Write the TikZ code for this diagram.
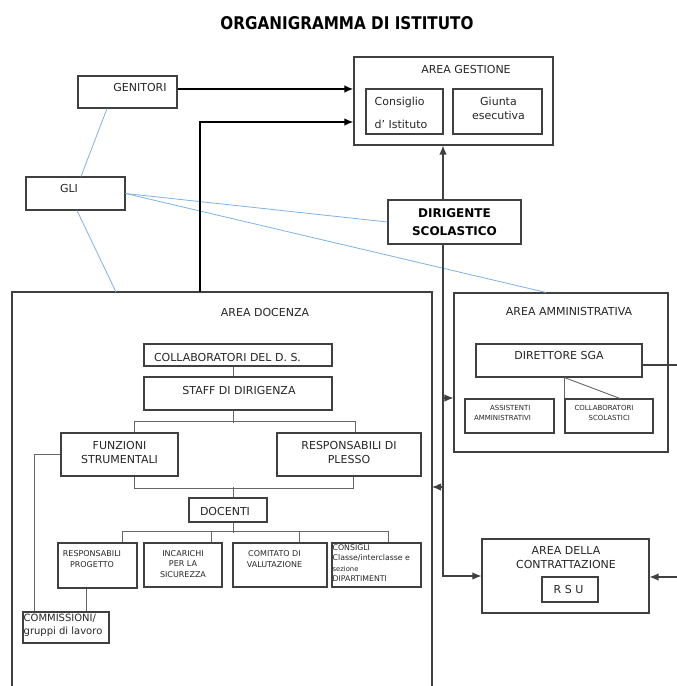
\documentclass[tikz,border=0pt]{standalone}
\usepackage{fontspec}
\setmainfont{DejaVu Sans}
\usepackage{graphicx}
\usetikzlibrary{arrows.meta}
\definecolor{boxc}{HTML}{404040}
\definecolor{bluel}{HTML}{7EB2E4}
\definecolor{txt}{HTML}{262626}
\newcommand{\fmain}{\fontsize{11}{14}\selectfont}
\newcommand{\fsmall}{\fontsize{8}{10.5}\selectfont}
\newcommand{\ftiny}{\fontsize{7}{10}\selectfont}
\tikzset{
  box/.style={draw=boxc, line width=1.1pt, inner sep=0pt},
  arr/.style={-{Latex[length=9pt,width=7.5pt]}},
  spine/.style={draw=black!75, line width=1.2pt},
  tree/.style={draw=black!60, line width=0.9pt},
  gl/.style={draw=bluel, line width=0.8pt},
  every label/.style={text=txt, inner sep=0pt, align=center},
}

\begin{document}
\begin{tikzpicture}[x=1pt, y=-1pt, font=\fmain, text=txt]
\useasboundingbox (0,0) rectangle (677,686);
\node[font=\fontsize{17.5}{20}\selectfont\bfseries, text=black] (title) at (347,23.5) {\scalebox{0.87}[1]{ORGANIGRAMMA DI ISTITUTO}};

\node[box, minimum width=99, minimum height=32, label={[xshift=12.5, yshift=4.5]center:GENITORI}] (gen) at (127.5,92) {};
\node[box, minimum width=99, minimum height=33, label={[xshift=-6.5, yshift=5.5]center:GLI}] (gli) at (75.5,193.5) {};
\node[box, minimum width=199, minimum height=88, label={[xshift=12.5, yshift=32]center:AREA GESTIONE}] (ges) at (453.5,101) {};
\node[box, minimum width=77, minimum height=45, label={[xshift=-3.5, yshift=-1, align=left]center:Consiglio\\[9pt]d’ Istituto}] (cdi) at (404.5,111.5) {};
\node[box, minimum width=89, minimum height=45, label={[xshift=1, yshift=3.5]center:Giunta\\esecutiva}] (giu) at (497.5,111.5) {};
\node[box, minimum width=133, minimum height=44, font=\fontsize{12}{18}\selectfont\bfseries, text=black, align=center] (dir) at (454.5,222) {DIRIGENTE\\SCOLASTICO};

\node[box, minimum width=214, minimum height=159, label={[xshift=8, yshift=61.5]center:AREA AMMINISTRATIVA}] (amm) at (561,372.5) {};
\node[box, minimum width=166, minimum height=33, label={[yshift=5.5]center:DIRETTORE SGA}] (dsga) at (559,360.5) {};
\node[box, minimum width=89, minimum height=34, label={[xshift=-7, yshift=3, align=left, font=\ftiny]center:\hspace*{16pt}ASSISTENTI\\AMMINISTRATIVI}] (ass) at (509.5,416) {};
\node[box, minimum width=88, minimum height=34, label={[xshift=-5, yshift=3, align=left, font=\ftiny]center:COLLABORATORI\\\hspace*{14pt}SCOLASTICI}] (col) at (609,416) {};

\coordinate (dtl) at (12,292);
\coordinate (dtr) at (432,292);
\draw[box] (12,686) -- (dtl) -- (dtr) -- (432,686);
\node (docl) at (265,312) {AREA DOCENZA};
\node[box, minimum width=188, minimum height=22, label={[xshift=-10.5, yshift=-2]center:COLLABORATORI DEL D. S.}] (cds) at (238,355) {};
\node[box, minimum width=188, minimum height=33, label={[xshift=1, yshift=3.5]center:STAFF DI DIRIGENZA}] (sdd) at (238,393.5) {};
\node[box, minimum width=117, minimum height=43, label={[yshift=2]center:FUNZIONI\\STRUMENTALI}] (fs) at (119.5,454.5) {};
\node[box, minimum width=144, minimum height=43, label={[yshift=2]center:RESPONSABILI DI\\PLESSO}] (rdp) at (349,454.5) {};
\node[box, minimum width=78, minimum height=24, label={[xshift=-3, yshift=-1.5]center:DOCENTI}] (doce) at (228,510) {};
\node[box, minimum width=79, minimum height=45, label={[xshift=-5.5, yshift=6.5, font=\fsmall]center:RESPONSABILI\\PROGETTO}] (rp) at (97.5,565.5) {};
\node[box, minimum width=78, minimum height=44, label={[yshift=1, font=\fsmall]center:INCARICHI\\PER LA\\SICUREZZA}] (inc) at (183,565) {};
\node[box, minimum width=94, minimum height=44, label={[xshift=-5.5, yshift=6, font=\fsmall]center:COMITATO DI\\VALUTAZIONE}] (cdv) at (280,565) {};
\node[box, minimum width=89, minimum height=44] (con) at (376.5,565) {};
\node[anchor=north west, align=left, inner sep=0pt, font=\fontsize{7.8}{10.3}\selectfont] (con-t) at ([xshift=1, yshift=-2]con.north west) {CONSIGLI\\Classe/interclasse e\\\fontsize{6.8}{10.3}\selectfont sezione\\DIPARTIMENTI};
\node[box, minimum width=86, minimum height=31] (com) at (66,627.5) {};
\node[anchor=north west, align=left, inner sep=0pt, font=\fontsize{10}{13}\selectfont] (com-t) at ([xshift=1, yshift=-2]com.north west) {COMMISSIONI/\\gruppi di lavoro};

\node[box, minimum width=167, minimum height=74, label={[xshift=0.5, yshift=18]center:AREA DELLA\\CONTRATTAZIONE}] (ctr) at (565.5,576) {};
\node[box, minimum width=56, minimum height=25, label={[xshift=-1.5, yshift=0.5]center:R S U}] (rsu) at (570,589.5) {};

\draw[gl] ([xshift=-20.5]gen.south) -- ([xshift=5.5]gli.north);
\coordinate (dg) at (116,292);
\draw[gl] ([xshift=1.5]gli.south) -- (dg);
\draw[gl] (gli.east) -- (dir.west);
\draw[gl] (gli.east) -- ([xshift=-15]amm.north);

\draw[arr, line width=2pt] ([yshift=3]gen.east) -- ([yshift=3]gen.east -| ges.west);
\coordinate (dline) at (200,292);
\draw[arr, line width=1.6pt] (dline) |- ([yshift=-21]ges.west);
\draw[arr, spine] ([xshift=-11.5]dir.north) -- ([xshift=-11.5]dir.north |- ges.south);
\draw[arr, spine] ([xshift=-11.5]dir.south) |- (ctr.west);
\coordinate (ja) at (443,398);
\coordinate (jb) at (443,487);
\draw[arr, spine] (ja) -- (ja -| amm.west);
\draw[arr, spine] (jb) -- (jb -| dtr);
\coordinate (ea) at (677,365);
\coordinate (eb) at (677,577);
\draw[spine] ([yshift=-4.5]dsga.east) -- (ea);
\draw[arr, spine] (eb) -- (eb -| ctr.east);

\draw[tree] (dsga.south -| col.west) -- (col.north west);
\draw[tree] (dsga.south -| col.west) -- ([xshift=11]col.north);

\draw[tree] ([xshift=-5]cds.south) -- ([xshift=-5]sdd.north);
\draw[tree] ([xshift=-5]sdd.south) -- ++(0,12);
\draw[tree] ([xshift=14.5]fs.north) -- ++(0,-11) -| ([xshift=6]rdp.north);
\draw[tree] ([xshift=14.5]fs.south) -- ++(0,12) -| ([xshift=4]rdp.south);
\draw[tree] ([xshift=5]doce.north) -- ++(0,-10);
\draw[tree] ([xshift=5]doce.south) -- ++(0,10);
\draw[tree] ([xshift=24.5]rp.north) -- ++(0,-11) -| ([xshift=11.5]con.north);
\draw[tree] ([xshift=28]inc.north) -- ++(0,-11);
\draw[tree] ([xshift=19]cdv.north) -- ++(0,-11);
\draw[tree] ([xshift=-11.5]rp.south) -- ([xshift=-11.5]rp.south |- com.north);
\draw[tree] (fs.west) -| ([xshift=-32]com.north);
\end{tikzpicture}
\end{document}
